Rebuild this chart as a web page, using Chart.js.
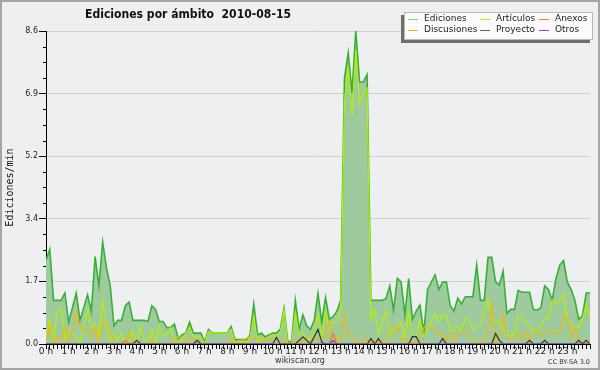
<!DOCTYPE html>
<html>
<head>
<meta charset="utf-8">
<script src="https://cdn.jsdelivr.net/npm/chart.js@4/dist/chart.umd.min.js"></script>
<style>
  body { margin: 0; background: #eeeff0; }
  canvas { display: block; }
</style>
</head>
<body>
<canvas id="chart" width="600" height="370"></canvas>
<script>
// one value every 10 minutes, 0:00 .. 24:00
const hourLabels = ['0 h', '1 h', '2 h', '3 h', '4 h', '5 h', '6 h', '7 h', '8 h', '9 h', '10 h', '11 h',
  '12 h', '13 h', '14 h', '15 h', '16 h', '17 h', '18 h', '19 h', '20 h', '21 h', '22 h', '23 h'];
const yTicks = [0, 1.72, 3.44, 5.16, 6.88, 8.6];
const yTickLabels = ['0.0', '1.7', '3.4', '5.2', '6.9', '8.6'];
const yMinorStep = 0.43;

const ediciones = [
  2.3, 2.6, 1.2, 1.2, 1.2, 1.4,
  0.6, 1.0, 1.4, 0.65, 1.0, 1.35,
  0.9, 2.4, 1.6, 2.8, 2.1, 1.6,
  0.5, 0.65, 0.65, 1.05, 1.15, 0.65,
  0.65, 0.65, 0.65, 0.62, 1.05, 0.95,
  0.62, 0.62, 0.45, 0.45, 0.55, 0.15,
  0.25, 0.3, 0.6, 0.3, 0.3, 0.3,
  0.05, 0.4, 0.3, 0.3, 0.3, 0.3,
  0.3, 0.48, 0.12, 0.12, 0.12, 0.12,
  0.25, 1.1, 0.25, 0.3, 0.2, 0.25,
  0.3, 0.3, 0.4, 0.98, 0.08, 0.05,
  1.2, 0.4, 0.8, 0.5, 0.4, 0.65,
  1.39, 0.6, 1.28, 0.68, 0.75, 0.9,
  1.2, 7.3, 8.0, 6.9, 8.6, 7.2,
  7.2, 7.4, 1.2, 1.2, 1.2, 1.2,
  1.25, 1.6, 0.93, 1.8, 1.7, 0.8,
  1.8, 0.68, 0.9, 1.07, 0.3, 1.5,
  1.7, 1.9, 1.5, 1.7, 1.7, 1.05,
  0.9, 1.26, 1.1, 1.3, 1.3, 1.3,
  2.17, 1.2, 1.2, 2.38, 2.38, 1.71,
  1.62, 2.0, 0.84, 0.95, 0.95, 1.48,
  1.42, 1.42, 1.42, 0.95, 0.93, 1.0,
  1.6, 1.5, 1.21, 1.8, 2.17, 2.29,
  1.7, 1.5, 1.2, 0.68, 0.77, 1.4,
  1.4
];
const articulos = [
  0.15, 0.68, 0.12, 0.9, 0.98, 0.15,
  0.35, 0.3, 0.2, 0.02, 0.48, 0.92,
  0.48, 0.55, 0.2, 1.21, 0.4, 0.1,
  0.25, 0.1, 0.3, 0.0, 0.0, 0.38,
  0.0, 0.48, 0.1, 0.1, 0.4, 0.05,
  0.5, 0.2, 0.3, 0.45, 0.05, 0.0,
  0.1, 0.3, 0.45, 0.2, 0.2, 0.2,
  0.0, 0.35, 0.3, 0.3, 0.3, 0.3,
  0.3, 0.4, 0.05, 0.05, 0.05, 0.05,
  0.15, 0.75, 0.05, 0.15, 0.1, 0.2,
  0.25, 0.25, 0.3, 0.93, 0.0, 0.0,
  0.85, 0.25, 0.3, 0.05, 0.2, 0.3,
  0.8, 0.2, 0.89, 0.4, 0.6, 0.6,
  1.0, 6.66, 7.62, 6.29, 8.08, 6.61,
  6.9, 7.02, 0.66, 0.93, 0.27, 0.6,
  0.93, 0.2, 0.4, 0.5, 0.6, 0.1,
  0.89, 0.2, 0.2, 0.68, 0.2, 0.4,
  0.61, 0.84, 0.61, 0.8, 0.77, 0.4,
  0.35, 0.5, 0.4, 0.7, 0.65, 0.38,
  0.45, 0.55, 0.89, 1.21, 0.66, 0.6,
  0.66, 0.4, 0.3, 0.2, 0.3, 0.8,
  0.7, 0.6, 0.5, 0.35, 0.38, 0.5,
  0.68, 0.68, 1.21, 1.1, 1.2, 1.39,
  0.66, 0.55, 0.45, 0.45, 0.7, 1.07,
  0.7
];
const discusiones = [
  0.13, 0.5, 0.0, 0.2, 0.05, 0.5,
  0.0, 0.4, 0.9, 0.42, 0.42, 0.42,
  0.15, 0.47, 0.05, 0.6, 0.6, 0.3,
  0.1, 0.0, 0.0, 0.0, 0.3, 0.0,
  0.0, 0.0, 0.0, 0.0, 0.13, 0.0,
  0.0, 0.0, 0.0, 0.0, 0.13, 0.2,
  0.16, 0.05, 0.16, 0.1, 0.0, 0.0,
  0.0, 0.0, 0.0, 0.0, 0.0, 0.0,
  0.0, 0.16, 0.0, 0.1, 0.1, 0.15,
  0.2, 0.15, 0.15, 0.1, 0.1, 0.15,
  0.15, 0.1, 0.15, 0.05, 0.0, 0.0,
  0.1, 0.0, 0.2, 0.15, 0.0, 0.2,
  0.1, 0.2, 0.2, 0.61, 0.0, 0.2,
  0.0, 0.8, 0.2, 0.25, 0.05, 0.1,
  0.0, 0.16, 0.0, 0.1, 0.1, 0.1,
  0.0, 0.25, 0.48, 0.48, 0.1, 0.15,
  0.0, 0.1, 0.05, 0.15, 0.45, 0.48,
  0.45, 0.4, 0.25, 0.3, 0.1, 0.3,
  0.05, 0.3, 0.3, 0.4, 0.2, 0.1,
  0.05, 0.1, 0.0, 0.4, 1.12, 0.0,
  0.2, 0.8, 0.16, 0.16, 0.16, 0.31,
  0.1, 0.35, 0.1, 0.35, 0.35, 0.2,
  0.35, 0.35, 0.3, 0.3, 0.3, 0.8,
  0.66, 0.15, 0.48, 0.08, 0.05, 0.0,
  0.05
];
const anexos = [
  0, 0, 0, 0, 0, 0,  0, 0, 0, 0, 0, 0,  0, 0, 0, 0, 0, 0,  0, 0, 0, 0.1, 0, 0,
  0, 0, 0, 0, 0, 0,  0, 0, 0, 0, 0, 0,  0, 0, 0, 0, 0, 0,  0, 0, 0, 0, 0, 0,
  0, 0, 0, 0, 0, 0,  0, 0, 0, 0, 0, 0,  0, 0, 0, 0, 0, 0,  0, 0, 0, 0, 0, 0,
  0, 0, 0, 0, 0.29, 0,  0, 0, 0, 0, 0, 0,  0, 0, 0, 0, 0, 0,  0, 0, 0, 0, 0, 0,
  0, 0, 0, 0, 0, 0,  0, 0, 0, 0, 0, 0,  0, 0, 0, 0, 0, 0,  0, 0, 0, 0, 0, 0,
  0, 0, 0, 0, 0, 0,  0, 0, 0, 0, 0, 0,  0, 0, 0, 0, 0, 0,  0, 0, 0, 0, 0, 0,
  0
];
const proyecto = [
  0, 0, 0, 0, 0, 0,  0, 0, 0, 0, 0, 0,  0, 0, 0, 0, 0, 0,  0, 0, 0, 0, 0, 0,
  0.1, 0, 0, 0, 0, 0,  0, 0, 0, 0, 0, 0,  0, 0, 0, 0, 0.1, 0,  0, 0, 0, 0, 0, 0,
  0, 0, 0, 0, 0, 0,  0, 0, 0, 0, 0, 0,  0, 0.18, 0, 0, 0, 0,  0, 0.1, 0.2, 0.1, 0, 0.2,
  0.4, 0.05, 0, 0, 0, 0,  0, 0, 0, 0, 0, 0,  0, 0, 0.15, 0, 0.15, 0,  0, 0, 0, 0, 0, 0,
  0, 0.2, 0.2, 0, 0, 0,  0, 0, 0, 0.15, 0, 0,  0, 0, 0, 0, 0, 0,  0, 0, 0, 0, 0, 0.29,
  0.1, 0, 0, 0, 0, 0,  0, 0, 0.1, 0, 0, 0,  0.1, 0, 0, 0, 0, 0,  0, 0, 0, 0.1, 0, 0.1,
  0
];
const otros = [
  0, 0, 0, 0, 0, 0,  0, 0, 0, 0, 0, 0,  0, 0, 0, 0, 0, 0,  0, 0, 0, 0, 0, 0,
  0, 0, 0, 0, 0, 0,  0, 0, 0, 0, 0, 0,  0, 0, 0, 0, 0, 0,  0, 0, 0, 0, 0, 0,
  0, 0, 0, 0, 0, 0,  0, 0, 0, 0, 0, 0,  0, 0, 0, 0, 0, 0,  0, 0, 0, 0, 0, 0,
  0, 0, 0, 0, 0.1, 0,  0, 0, 0, 0, 0, 0,  0, 0, 0, 0, 0, 0,  0, 0, 0, 0, 0, 0,
  0, 0, 0, 0, 0, 0,  0, 0, 0, 0, 0, 0,  0, 0, 0, 0, 0, 0,  0, 0, 0, 0, 0, 0,
  0, 0, 0, 0, 0, 0,  0, 0, 0, 0, 0, 0,  0, 0, 0, 0, 0, 0,  0, 0, 0, 0, 0, 0,
  0
];

const BG = '#eeeff0';

function pts(arr) {
    return arr.map((v, i) => ({ x: i, y: v }));
}

function line(label, arr, color, order, extra) {
    return Object.assign({
        label: label,
        data: pts(arr),
        borderColor: color,
        borderWidth: 1.2,
        pointRadius: 0,
        tension: 0,
        fill: false,
        order: order
    }, extra || {});
}

// legend is drawn in 3 columns like the original (row by row)
const legendCols = [408, 480, 539];
const legendRows = [19, 29.5];

const decor = {
    id: 'decor',
    beforeDraw(c) {
        const ctx = c.ctx;
        ctx.save();
        ctx.fillStyle = BG;
        ctx.fillRect(0, 0, c.width, c.height);
        ctx.restore();
    },
    afterDraw(c) {
        const ctx = c.ctx;
        const area = c.chartArea;
        const y = c.scales.y;
        ctx.save();

        // minor ticks on the y axis
        ctx.strokeStyle = '#000';
        ctx.lineWidth = 1;
        for (let v = yMinorStep; v < 8.6; v += yMinorStep) {
            if (yTicks.some(t => Math.abs(t - v) < 0.01)) continue;
            const py = Math.round(y.getPixelForValue(v)) + 0.5;
            ctx.beginPath();
            ctx.moveTo(area.left - 3, py);
            ctx.lineTo(area.left, py);
            ctx.stroke();
        }

        // title, squeezed to the narrow width of the original font
        const title = 'Ediciones por ámbito  2010-08-15';
        ctx.fillStyle = '#111';
        ctx.font = 'bold 13px "DejaVu Sans"';
        ctx.textBaseline = 'middle';
        ctx.textAlign = 'left';
        const tw = ctx.measureText(title).width;
        ctx.save();
        ctx.translate(85, 15);
        ctx.scale(206 / tw, 1);
        ctx.fillText(title, 0, 0);
        ctx.restore();

        // legend box with shadow
        ctx.fillStyle = '#6e6e6e';
        ctx.fillRect(401, 15, 189, 28);
        ctx.fillStyle = '#fbfbfb';
        ctx.fillRect(404, 12, 189, 28);
        ctx.strokeStyle = '#b8b8b8';
        ctx.strokeRect(404.5, 12.5, 188, 27);

        ctx.font = '9px "DejaVu Sans"';
        ctx.textBaseline = 'middle';
        c.data.datasets.forEach((ds, i) => {
            const col = i % 3, row = Math.floor(i / 3);
            const lx = legendCols[col], ly = legendRows[row];
            ctx.strokeStyle = ds.legendColor || ds.borderColor;
            ctx.lineWidth = 1;
            ctx.beginPath();
            ctx.moveTo(lx, Math.round(ly) + 0.5);
            ctx.lineTo(lx + 10, Math.round(ly) + 0.5);
            ctx.stroke();
            ctx.fillStyle = '#222';
            ctx.fillText(ds.label, lx + 16, ly);
        });

        // footer
        ctx.fillStyle = '#333';
        ctx.font = '8px "DejaVu Sans"';
        ctx.textAlign = 'center';
        ctx.fillText('wikiscan.org', 300, 361);
        ctx.font = '6.5px "DejaVu Sans"';
        ctx.textAlign = 'right';
        ctx.fillText('CC BY-SA 3.0', 590, 362);

        // outer frame
        ctx.strokeStyle = '#a5a5a5';
        ctx.lineWidth = 2;
        ctx.strokeRect(1, 1, c.width - 2, c.height - 2);
        ctx.restore();
    }
};

const chart = new Chart(document.getElementById('chart'), {
    type: 'line',
    data: {
        datasets: [
            line('Ediciones', ediciones, '#38b038', 6, {
                fill: 'origin', backgroundColor: '#9dcb9d', borderWidth: 1.6, legendColor: '#86d286'
            }),
            line('Artículos', articulos, '#b6f000', 5),
            line('Anexos', anexos, '#f07838', 3),
            line('Discusiones', discusiones, '#f2b80c', 4),
            line('Proyecto', proyecto, '#333333', 2, { legendColor: '#666666' }),
            line('Otros', otros, '#9040e0', 1)
        ]
    },
    options: {
        responsive: false,
        animation: false,
        layout: { padding: { top: 31, right: 10, bottom: 0, left: 0 } },
        plugins: {
            legend: { display: false },
            tooltip: { enabled: false }
        },
        scales: {
            x: {
                type: 'linear',
                min: 0,
                max: 144,
                afterBuildTicks: s => { s.ticks = ediciones.map((v, i) => ({ value: i })); },
                afterFit: s => { s.height = 26; },
                grid: { drawOnChartArea: false, tickLength: 5, tickColor: '#000', color: '#000' },
                border: { color: '#000' },
                ticks: {
                    autoSkip: false,
                    maxRotation: 0,
                    padding: -3,
                    color: '#222',
                    font: { family: 'DejaVu Sans', size: 9 },
                    callback: v => (v % 6 === 0 && v < 144) ? hourLabels[v / 6] : ''
                }
            },
            y: {
                min: 0,
                max: 8.6,
                afterBuildTicks: s => { s.ticks = yTicks.map(v => ({ value: v })); },
                afterFit: s => { s.width = 46; },
                grid: { color: '#cfcfcf', tickColor: '#000', tickLength: 7 },
                border: { color: '#000' },
                ticks: {
                    padding: 1,
                    color: '#222',
                    font: { family: 'DejaVu Sans', size: 8 },
                    callback: (v, i) => yTickLabels[i]
                },
                title: {
                    display: true,
                    text: 'Ediciones/min',
                    color: '#111',
                    font: { family: 'DejaVu Sans Mono', size: 10 },
                    padding: { top: 4, bottom: 0 }
                }
            }
        }
    },
    plugins: [decor]
});
</script>
</body>
</html>
